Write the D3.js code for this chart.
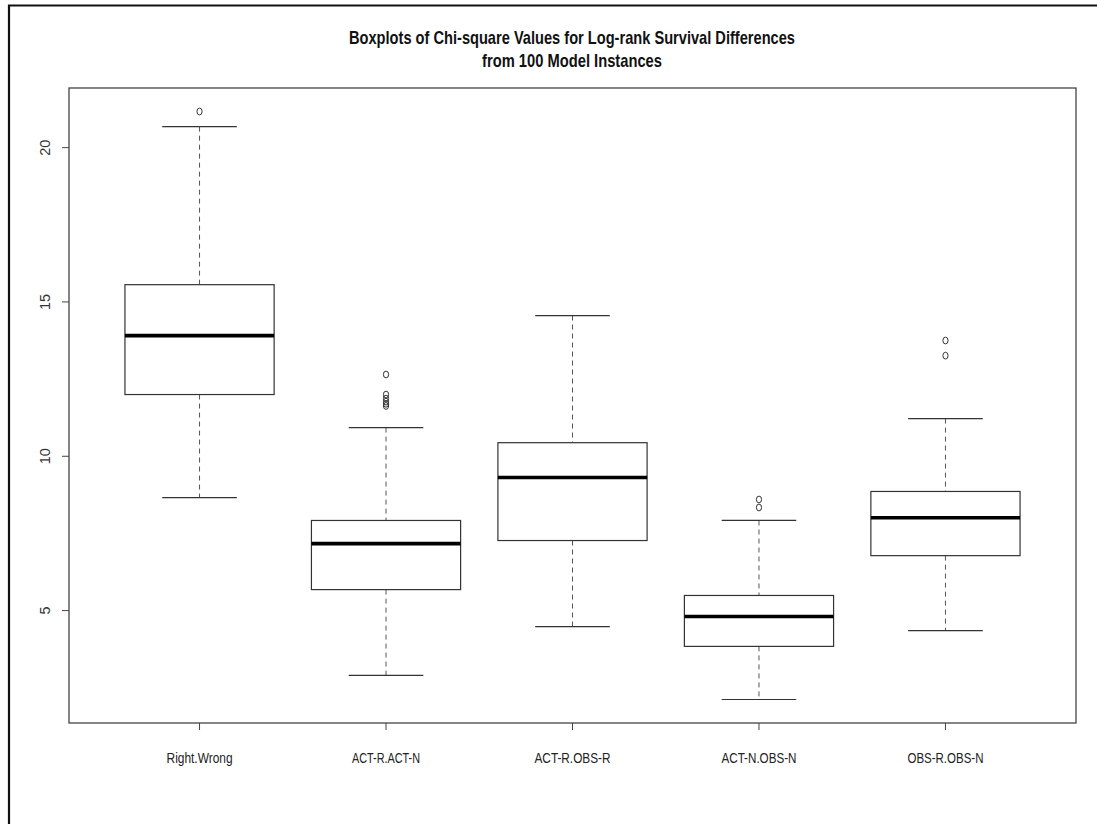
<!DOCTYPE html>
<html>
<head>
<meta charset="utf-8">
<script src="https://cdn.jsdelivr.net/npm/d3@7"></script>
<style>
  body { margin: 0; background: #fff; }
  text { font-family: "Liberation Sans", Arial, sans-serif; }
</style>
</head>
<body>
<svg id="chart"></svg>
<script>
// valeurs
const groups = ["Right.Wrong", "ACT-R.ACT-N", "ACT-R.OBS-R", "ACT-N.OBS-N", "OBS-R.OBS-N"];
const whiskLow = [8.66, 2.90, 4.48, 2.12, 4.35];
const q1 = [12.0, 5.68, 7.27, 3.84, 6.78];
const median = [13.91, 7.17, 9.31, 4.81, 8.01];
const q3 = [15.56, 7.92, 10.44, 5.49, 8.86];
const whiskHigh = [20.68, 10.93, 14.56, 7.92, 11.22];
const outliers = [
  [21.17],
  [12.65, 12.0, 11.87, 11.77, 11.7, 11.63],
  [],
  [8.6, 8.34],
  [13.75, 13.26]
];
const yTicks = [5, 10, 15, 20];

const W = 1097, H = 824;
const plot = { left: 69, right: 1076, top: 88, bottom: 723 };
// largeur des étiquettes (texte R tassé)
const labelW = [66, 68, 76, 75, 76];

const svg = d3.select("#chart").attr("width", W).attr("height", H);

// cadre extérieur (seulement haut et gauche visibles)
svg.append("path")
  .attr("d", `M9,824 V5.5 H1097`)
  .attr("fill", "none")
  .attr("stroke", "#111")
  .attr("stroke-width", 2.2);

// échelles façon R : xlim 0.5..n+0.5 élargi de 4%
const n = groups.length;
const x = d3.scaleLinear()
  .domain([0.5 - 0.04 * n, n + 0.5 + 0.04 * n])
  .range([plot.left, plot.right]);

const allVals = whiskLow.concat(whiskHigh, outliers.flat());
const lo = d3.min(allVals), hi = d3.max(allVals);
const ext = (hi - lo) * 0.04;
const y = d3.scaleLinear().domain([lo - ext, hi + ext]).range([plot.bottom, plot.top]);

const bw = (x(2) - x(1)) * 0.8;

// boîte du graphique
svg.append("rect")
  .attr("x", plot.left).attr("y", plot.top)
  .attr("width", plot.right - plot.left).attr("height", plot.bottom - plot.top)
  .attr("fill", "none").attr("stroke", "#444").attr("stroke-width", 1.3);

// axe y
const yAxis = svg.append("g");
yAxis.selectAll("line").data(yTicks).join("line")
  .attr("x1", plot.left - 7).attr("x2", plot.left)
  .attr("y1", d => y(d)).attr("y2", d => y(d))
  .attr("stroke", "#444");
yAxis.selectAll("text").data(yTicks).join("text")
  .attr("transform", d => `translate(50,${y(d)}) rotate(-90)`)
  .attr("text-anchor", "middle")
  .attr("font-size", 14.5)
  .attr("fill", "#333")
  .text(d => d);

// axe x
const xAxis = svg.append("g");
xAxis.selectAll("line").data(groups).join("line")
  .attr("x1", (d, i) => x(i + 1)).attr("x2", (d, i) => x(i + 1))
  .attr("y1", plot.bottom).attr("y2", plot.bottom + 7)
  .attr("stroke", "#444");
xAxis.selectAll("text").data(groups).join("text")
  .attr("x", (d, i) => x(i + 1))
  .attr("y", 763)
  .attr("text-anchor", "middle")
  .attr("font-size", 15.5)
  .attr("fill", "#222")
  .attr("textLength", (d, i) => labelW[i])
  .attr("lengthAdjust", "spacingAndGlyphs")
  .text(d => d);

// boîtes à moustaches
const boxes = svg.append("g").selectAll("g").data(groups).join("g");

boxes.each(function (d, i) {
  const g = d3.select(this);
  const cx = x(i + 1);
  // moustaches en pointillés
  g.append("line")
    .attr("x1", cx).attr("x2", cx)
    .attr("y1", y(whiskHigh[i])).attr("y2", y(q3[i]))
    .attr("stroke", "#555").attr("stroke-dasharray", "5,4");
  g.append("line")
    .attr("x1", cx).attr("x2", cx)
    .attr("y1", y(q1[i])).attr("y2", y(whiskLow[i]))
    .attr("stroke", "#555").attr("stroke-dasharray", "5,4");
  // agrafes
  [whiskHigh[i], whiskLow[i]].forEach(v => {
    g.append("line")
      .attr("x1", cx - bw / 4).attr("x2", cx + bw / 4)
      .attr("y1", y(v)).attr("y2", y(v))
      .attr("stroke", "#333").attr("stroke-width", 1.2);
  });
  // boîte
  g.append("rect")
    .attr("x", cx - bw / 2).attr("width", bw)
    .attr("y", y(q3[i])).attr("height", y(q1[i]) - y(q3[i]))
    .attr("fill", "#fff").attr("stroke", "#333").attr("stroke-width", 1.2);
  // médiane
  g.append("line")
    .attr("x1", cx - bw / 2).attr("x2", cx + bw / 2)
    .attr("y1", y(median[i])).attr("y2", y(median[i]))
    .attr("stroke", "#000").attr("stroke-width", 3.6);
  // valeurs extrêmes
  g.selectAll("ellipse").data(outliers[i]).join("ellipse")
    .attr("cx", cx).attr("cy", v => y(v))
    .attr("rx", 2.6).attr("ry", 3.4)
    .attr("fill", "none").attr("stroke", "#333").attr("stroke-width", 1);
});

// titre
const title = ["Boxplots of Chi-square Values for Log-rank Survival Differences", "from 100 Model Instances"];
const titleW = [446, 180];
svg.append("g").selectAll("text").data(title).join("text")
  .attr("x", 572)
  .attr("y", (d, i) => 43.5 + i * 23.5)
  .attr("text-anchor", "middle")
  .attr("font-size", 19)
  .attr("font-weight", "bold")
  .attr("fill", "#111")
  .attr("textLength", (d, i) => titleW[i])
  .attr("lengthAdjust", "spacingAndGlyphs")
  .text(d => d);
</script>
</body>
</html>
